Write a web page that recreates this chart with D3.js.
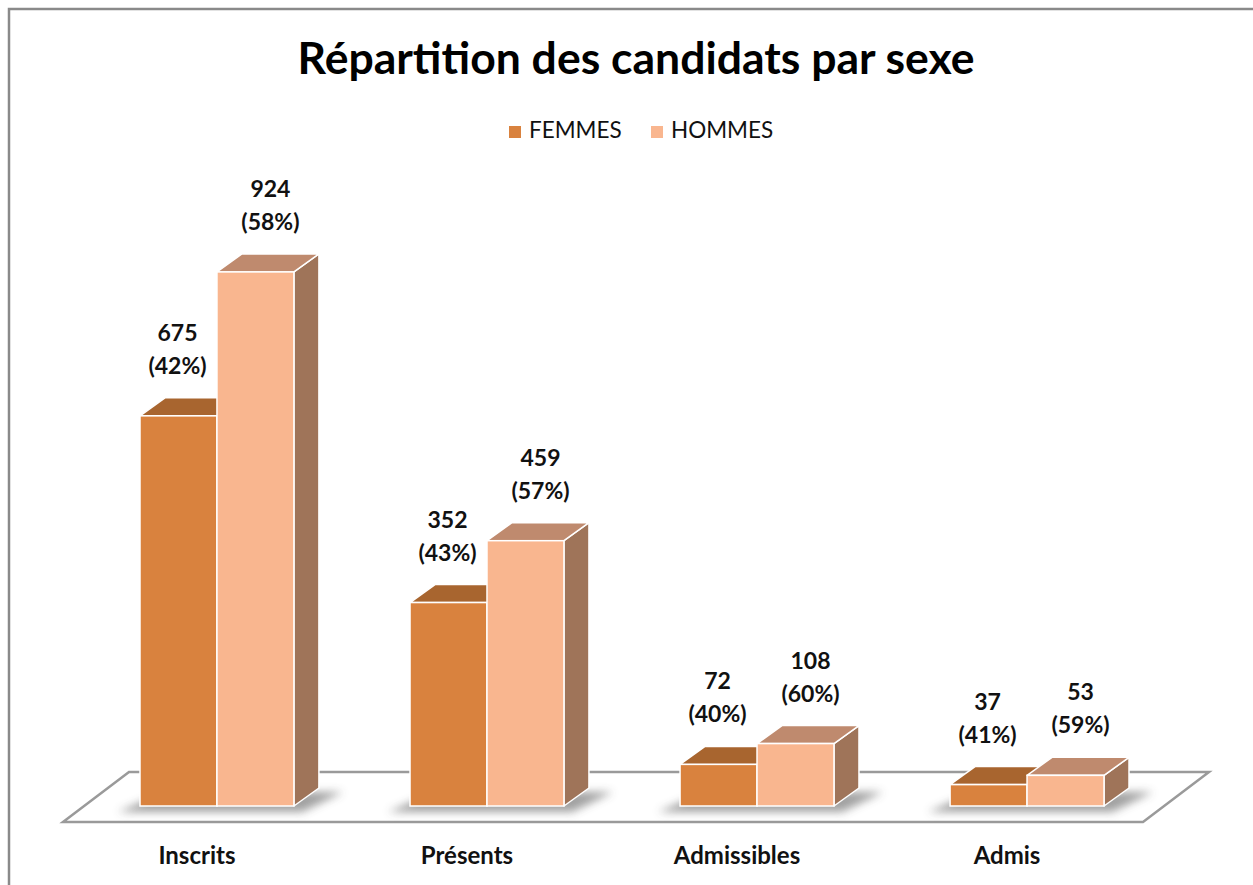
<!DOCTYPE html>
<html>
<head>
<meta charset="utf-8">
<script src="https://cdn.jsdelivr.net/npm/d3@7"></script>
<style>
  body { margin: 0; background: #fff; }
  svg { display: block; font-family: Lato, "Open Sans", sans-serif; }
</style>
</head>
<body>
<svg id="container"></svg>
<script>
// data
var categories = ["Inscrits", "Présents", "Admissibles", "Admis"];
var series = ["FEMMES", "HOMMES"];
var femmes = [675, 352, 72, 37];
var hommes = [924, 459, 108, 53];

var W = 1253, H = 885;
var colors = {
	FEMMES: { front: "#D9823E", top: "#A8652F", side: "#8B5427" },
	HOMMES: { front: "#F9B68F", top: "#BF8A6E", side: "#9F7459" }
};
var depth = { dx: 25, dy: -18 };

var svg = d3.select("#container")
	.attr("width", W)
	.attr("height", H);

// outer frame
svg.append("rect")
	.attr("x", 9).attr("y", 9)
	.attr("width", W + 20).attr("height", H + 20)
	.attr("fill", "none")
	.attr("stroke", "#8a8a8a")
	.attr("stroke-width", 2.5);

svg.append("text")
	.attr("x", 636).attr("y", 74)
	.attr("text-anchor", "middle")
	.style("font-size", "44.5px")
	.style("font-weight", "bold")
	.text("Répartition des candidats par sexe");

// legend
var legend = svg.append("g").selectAll("g")
	.data(series)
	.enter().append("g")
	.attr("transform", (d, i) => "translate(" + (509 + i * 142) + ",126)");
legend.append("rect")
	.attr("width", 12).attr("height", 12)
	.attr("fill", d => colors[d].front);
legend.append("text")
	.attr("x", 20).attr("y", 12)
	.style("font-size", "22.5px")
	.attr("fill", "#111")
	.text(d => d);

var x = d3.scaleBand().domain(categories)
	.range([140, 1104])
	.paddingInner(0.43)
	.paddingOuter(0);
var xs = d3.scaleBand().domain(series).range([0, x.bandwidth()]);
var y = d3.scaleLinear().domain([0, 1000]).range([806, 228]);

var defs = svg.append("defs");
defs.append("filter").attr("id", "blur")
	.attr("x", "-30%").attr("y", "-100%").attr("width", "160%").attr("height", "300%")
	.append("feGaussianBlur").attr("stdDeviation", 4);

function poly(pts) { return d3.line()(pts) + "Z"; }

// floor
var floor = [[63, 822], [1143, 822], [1143 + 66, 772], [63 + 66, 772]];
svg.append("path")
	.attr("d", poly(floor))
	.attr("fill", "#fff")
	.attr("stroke", "#9a9a9a")
	.attr("stroke-width", 2.5);

// shadows under each group
svg.append("g").selectAll("path")
	.data(categories)
	.enter().append("path")
	.attr("d", function (d) {
		var x0 = x(d), x1 = x0 + x.bandwidth(), y0 = y(0);
		return poly([[x0 - 22, y0 + 6], [x1 + 8, y0 + 6], [x1 + depth.dx + 24, y0 + depth.dy + 4], [x0 + depth.dx, y0 + depth.dy + 4]]);
	})
	.attr("fill", "#444")
	.attr("opacity", 0.5)
	.attr("filter", "url(#blur)");

var rows = [];
categories.forEach(function (c, i) {
	var tot = femmes[i] + hommes[i];
	rows.push({ cat: c, s: "FEMMES", v: femmes[i], pct: Math.round(femmes[i] / tot * 100) });
	rows.push({ cat: c, s: "HOMMES", v: hommes[i], pct: Math.round(hommes[i] / tot * 100) });
});

var bars = svg.append("g").selectAll("g")
	.data(rows)
	.enter().append("g");

// side face
bars.append("path")
	.attr("d", function (d) {
		var x1 = x(d.cat) + xs(d.s) + xs.bandwidth(), y0 = y(0), y1 = y(d.v);
		return poly([[x1, y0], [x1 + depth.dx, y0 + depth.dy], [x1 + depth.dx, y1 + depth.dy], [x1, y1]]);
	})
	.attr("fill", d => colors[d.s].side)
	.attr("stroke", "#fff").attr("stroke-width", 1.5).attr("stroke-linejoin", "round");
// top face
bars.append("path")
	.attr("d", function (d) {
		var x0 = x(d.cat) + xs(d.s), x1 = x0 + xs.bandwidth(), y1 = y(d.v);
		return poly([[x0, y1], [x0 + depth.dx, y1 + depth.dy], [x1 + depth.dx, y1 + depth.dy], [x1, y1]]);
	})
	.attr("fill", d => colors[d.s].top)
	.attr("stroke", "#fff").attr("stroke-width", 1.5).attr("stroke-linejoin", "round");
// front face
bars.append("rect")
	.attr("x", d => x(d.cat) + xs(d.s))
	.attr("y", d => y(d.v))
	.attr("width", xs.bandwidth())
	.attr("height", d => y(0) - y(d.v))
	.attr("fill", d => colors[d.s].front)
	.attr("stroke", "#fff").attr("stroke-width", 1.5);

// value labels
var labels = svg.append("g").selectAll("text")
	.data(rows)
	.enter().append("text")
	.attr("text-anchor", "middle")
	.style("font-size", "23px")
	.style("font-weight", "bold")
	.attr("fill", "#111")
	.attr("transform", function (d) {
		var cx = x(d.cat) + xs(d.s) + xs.bandwidth() / 2 + (d.s === "HOMMES" ? 15 : -1);
		return "translate(" + cx + "," + (y(d.v) - 75) + ")";
	});
labels.append("tspan").attr("x", 0).attr("y", 0).text(d => d.v);
labels.append("tspan").attr("x", 0).attr("y", 33).text(d => "(" + d.pct + "%)");

// category labels
svg.append("g").selectAll("text")
	.data(categories)
	.enter().append("text")
	.attr("x", d => x(d) + x.bandwidth() / 2 - 20)
	.attr("y", 864)
	.attr("text-anchor", "middle")
	.style("font-size", "24px")
	.style("font-weight", "bold")
	.attr("fill", "#111")
	.text(d => d);
</script>
</body>
</html>
